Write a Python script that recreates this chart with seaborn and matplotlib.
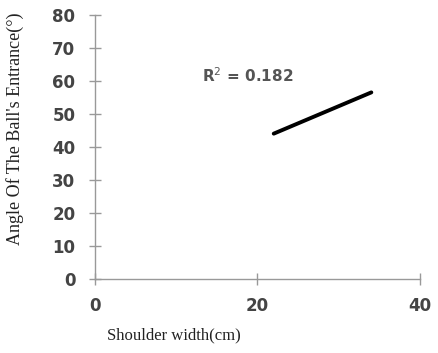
import numpy as np
import pandas as pd
import matplotlib
matplotlib.use("Agg")
import matplotlib.pyplot as plt
import seaborn as sns

# trend line end points
shoulder_width = [22, 34]
entrance_angle = [44.0, 56.5]
r_squared = 0.182

x_ticks = [0, 20, 40]
y_ticks = [0, 10, 20, 30, 40, 50, 60, 70, 80]

sns.set_style("white")

data = pd.DataFrame({"Shoulder": shoulder_width, "Angle": entrance_angle})

fig = plt.figure(figsize=(4.39, 3.53), dpi=100)
ax = fig.add_axes([0.216, 0.21, 0.741, 0.748])

sns.lineplot(ax=ax, data=data, x="Shoulder", y="Angle", color="black", linewidth=2.8)

ax.set_xlim(0, 40)
ax.set_ylim(0, 80)
ax.set_xticks(x_ticks)
ax.set_yticks(y_ticks)

for side in ["top", "right"]:
    ax.spines[side].set_visible(False)
for side in ["left", "bottom"]:
    ax.spines[side].set_color("#999999")
    ax.spines[side].set_linewidth(1.0)

ax.tick_params(axis="both", bottom=True, left=True, direction="inout", length=8,
               width=1.0, color="#999999", labelsize=12, labelcolor="#444444")
ax.tick_params(axis="y", pad=10)
ax.tick_params(axis="x", pad=9)
for lab in ax.get_xticklabels() + ax.get_yticklabels():
    lab.set_fontfamily("DejaVu Sans")
    lab.set_fontweight("bold")

ax.set_xlabel("Shoulder width(cm)", fontfamily="Liberation Serif", fontsize=12,
              color="#222222", ha="left")
ax.xaxis.set_label_coords(0.037, -0.185)
ax.set_ylabel("Angle Of The Ball's Entrance(°)", fontfamily="Liberation Serif",
              fontsize=13, color="#222222")
ax.yaxis.set_label_coords(-0.218, 0.57)

ax.text(13.2, 61.5, f"R$^2$ = {r_squared}", fontsize=11, fontweight="bold",
        color="#555555", va="center", fontfamily="DejaVu Sans")

fig.savefig("out.png", dpi=100)
